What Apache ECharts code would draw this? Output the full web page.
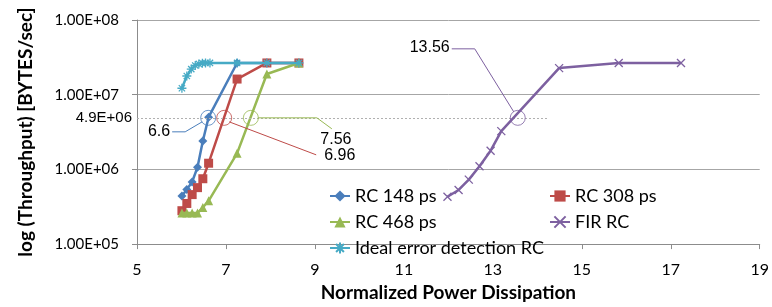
<!DOCTYPE html>
<html>
<head>
<meta charset="utf-8">
<script src="https://cdn.jsdelivr.net/npm/echarts@6/dist/echarts.min.js"></script>
<style>
  html, body { margin: 0; padding: 0; background: #fff; }
  #chart { width: 772px; height: 307px; }
</style>
</head>
<body>
<div id="chart"></div>
<script>
// x values (normalized power) shared by the RC series
var xRC = [6.01, 6.12, 6.24, 6.36, 6.48, 6.61, 7.25, 7.92, 8.64];
var rc148 = [4.4e5, 5.4e5, 6.8e5, 1.07e6, 2.4e6, 5.0e6, 2.66e7, 2.66e7, 2.66e7];
var rc308 = [2.8e5, 3.5e5, 4.6e5, 5.7e5, 7.5e5, 1.21e6, 1.62e7, 2.66e7, 2.66e7];
var rc468 = [2.6e5, 2.6e5, 2.6e5, 2.6e5, 3.1e5, 3.8e5, 1.64e6, 1.89e7, 2.66e7];

var xFir = [11.98, 12.23, 12.46, 12.70, 12.95, 13.19, 14.49, 15.83, 17.23];
var fir = [4.3e5, 5.3e5, 7.3e5, 1.1e6, 1.78e6, 3.25e6, 2.27e7, 2.66e7, 2.66e7];

var xIdeal = [6.01, 6.12, 6.22, 6.31, 6.39, 6.47, 6.54, 6.64, 7.25, 7.92, 8.64];
var ideal = [1.22e7, 1.78e7, 2.2e7, 2.46e7, 2.58e7, 2.64e7, 2.66e7, 2.66e7, 2.66e7, 2.66e7, 2.66e7];

var yTicks = ['1.00E+05', '1.00E+06', '1.00E+07', '1.00E+08'];
var refLevel = 4.9e6;
var refLabel = '4.9E+06';
var refEndX = 14.25;

// crossing points marked with circles
var marks = [6.6, 6.96, 7.56, 13.56];
var markNames = ['6.6', '6.96', '7.56', '13.56'];

var names = ['RC 148 ps', 'RC 308 ps', 'RC 468 ps', 'FIR RC', 'Ideal error detection RC'];
var colors = ['#4a7ebb', '#be4b48', '#98b954', '#7d60a0', '#46aac5'];

function pairs(xs, ys) {
    return xs.map(function (x, i) { return [x, ys[i]]; });
}

var crossPath = 'path://M0,0L10,10M10,0L0,10';
var starPath = 'path://M5,0L5,10M0,5L10,5M1.5,1.5L8.5,8.5M8.5,1.5L1.5,8.5';

function lineSeries(i, data, symbol, size, stroke) {
    return {
        name: names[i],
        type: 'line',
        data: data,
        symbol: symbol,
        symbolSize: size,
        showSymbol: true,
        lineStyle: { color: colors[i], width: 2.5 },
        itemStyle: {
            color: colors[i],
            borderColor: colors[i],
            borderWidth: stroke ? 1.3 : 0
        },
        emphasis: { disabled: true },
        z: 2 + i
    };
}

var chart = echarts.init(document.getElementById('chart'));

var series = [
    lineSeries(0, pairs(xRC, rc148), 'diamond', 9, false),
    lineSeries(1, pairs(xRC, rc308), 'rect', 9, false),
    lineSeries(2, pairs(xRC, rc468), 'triangle', 9, false),
    lineSeries(3, pairs(xFir, fir), crossPath, 8, true),
    lineSeries(4, pairs(xIdeal, ideal), starPath, 9, true)
];

// dotted reference level
series.push({
    type: 'line',
    data: [],
    silent: true,
    markLine: {
        symbol: 'none',
        silent: true,
        lineStyle: { color: '#b0b0b0', type: [2, 2], width: 1 },
        label: {
            show: true,
            position: 'start',
            formatter: refLabel,
            fontFamily: 'Liberation Sans',
            fontSize: 15,
            color: '#000',
            distance: 5
        },
        data: [[{ coord: [5, refLevel] }, { coord: [refEndX, refLevel] }]]
    }
});

// circles
marks.forEach(function (m, i) {
    series.push({
        type: 'scatter',
        data: [[m, refLevel]],
        symbol: 'circle',
        symbolSize: 15,
        silent: true,
        itemStyle: { color: 'rgba(255,255,255,0)', borderColor: colors[i], borderWidth: 1 },
        z: 10
    });
});

var legendText = { fontFamily: 'Lato', fontSize: 18, lineHeight: 16, color: '#000' };

var option = {
    animation: false,
    backgroundColor: '#fff',
    grid: { left: 137, right: 12, top: 20, bottom: 59 },
    legend: [
        {
            data: [names[0], names[2], names[4]],
            orient: 'vertical',
            left: 329,
            top: 187,
            itemWidth: 20,
            itemHeight: 14,
            itemGap: 8,
            padding: 0,
            textStyle: legendText
        },
        {
            data: [names[1], names[3]],
            orient: 'vertical',
            left: 549,
            top: 187,
            itemWidth: 20,
            itemHeight: 14,
            itemGap: 8,
            padding: 0,
            textStyle: legendText
        }
    ],
    xAxis: {
        type: 'value',
        min: 5,
        max: 19,
        interval: 2,
        name: 'Normalized Power Dissipation',
        nameLocation: 'middle',
        nameGap: 38,
        nameTextStyle: { fontFamily: 'Lato', fontSize: 19, fontWeight: 'bold', color: '#000' },
        axisLine: { show: true, lineStyle: { color: '#8c8c8c' } },
        axisTick: { show: true, length: 5, lineStyle: { color: '#8c8c8c' } },
        axisLabel: { fontFamily: 'Lato', fontSize: 16, color: '#000', margin: 18 },
        splitLine: { show: false }
    },
    yAxis: {
        type: 'log',
        logBase: 10,
        min: 1e5,
        max: 1e8,
        name: 'log (Throughput) [BYTES/sec]',
        nameLocation: 'middle',
        nameGap: 102,
        nameTextStyle: { fontFamily: 'Lato', fontSize: 19, fontWeight: 'bold', color: '#000' },
        axisLine: { show: true, lineStyle: { color: '#8c8c8c' } },
        axisTick: { show: true, length: 5, lineStyle: { color: '#8c8c8c' } },
        axisLabel: {
            fontFamily: 'Lato',
            fontSize: 15,
            color: '#000',
            margin: 18,
            formatter: function (v) {
                var k = Math.round(Math.log10(v)) - 5;
                return yTicks[k] || '';
            }
        },
        splitLine: { show: true, lineStyle: { color: '#a6a6a6', width: 1 } }
    },
    series: series
};

chart.setOption(option);

// leader lines and labels for the circled crossings, placed relative to the circle
var leaders = [
    { pts: [[-6, 4], [-23, 14], [-36, 14]], text: [-38, 14], align: 'right' },
    { pts: [[5, 4], [92, 37]], text: [100, 38], align: 'left' },
    { pts: [[7, 0], [66, 0], [81, 11]], text: [85, 22], align: 'center' },
    { pts: [[-4, -6], [-43, -69], [-66, -69]], text: [-68, -70], align: 'right' }
];

var graphics = [];
marks.forEach(function (m, i) {
    var p = chart.convertToPixel({ gridIndex: 0 }, [m, refLevel]);
    var L = leaders[i];
    graphics.push({
        type: 'polyline',
        silent: true,
        shape: { points: L.pts.map(function (d) { return [p[0] + d[0], p[1] + d[1]]; }) },
        style: { stroke: colors[i], lineWidth: 1, fill: null },
        z: 20
    });
    graphics.push({
        type: 'text',
        silent: true,
        x: p[0] + L.text[0],
        y: p[1] + L.text[1],
        style: {
            text: markNames[i],
            fontFamily: 'Liberation Sans',
            fontSize: 16,
            fill: '#000',
            align: L.align,
            verticalAlign: 'middle'
        },
        z: 20
    });
});
chart.setOption({ graphic: graphics });
</script>
</body>
</html>
